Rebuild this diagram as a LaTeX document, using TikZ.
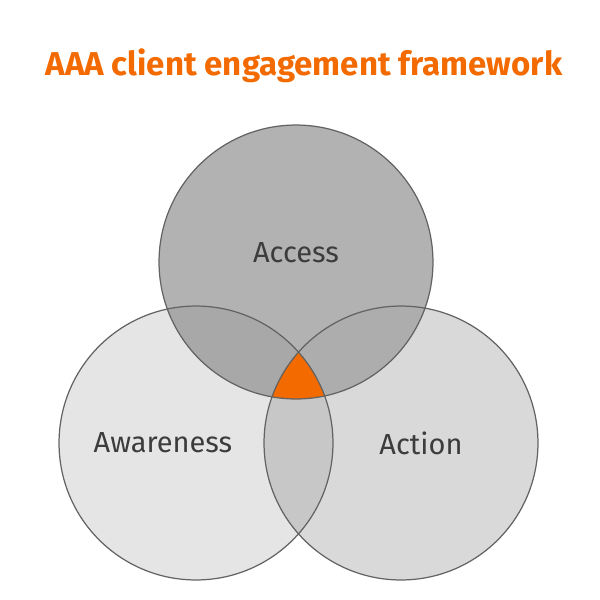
\documentclass[tikz,border=0pt]{standalone}
\usepackage{fontspec}
\setmainfont{Fira Sans}
\usetikzlibrary{positioning}
\definecolor{brand}{HTML}{F26A00}
\definecolor{ink}{HTML}{3C3C3C}
\tikzset{
  ring/.style={circle,draw=ink!80,line width=0.7pt,minimum size=5.48cm,inner sep=0pt},
  tag/.style={text=ink,font=\fontsize{16.5}{20}\selectfont}
}
\begin{document}
\begin{tikzpicture}[x=0.02cm,y=-0.02cm]
	\useasboundingbox (0,0) rectangle (600,600);
	%% Titel
	\node[text=brand,font=\bfseries\fontsize{18.8}{22}\selectfont] (title) at (304,66) {AAA client engagement framework};
	%% Kreise
	\coordinate (cAccess) at (296,262);
	\coordinate (cAware) at (196,443);
	\coordinate (cAction) at (401,443);
	\fill[black!10] (cAware) circle (137);
	\fill[black!15] (cAction) circle (137);
	\fill[black!30] (cAccess) circle (137);
	% Ueberschneidungen
	\begin{scope}
		\clip (cAction) circle (137);
		\fill[black!32] (cAccess) circle (137);
	\end{scope}
	\begin{scope}
		\clip (cAware) circle (137);
		\fill[black!34] (cAccess) circle (137);
		\fill[black!22] (cAction) circle (137);
		\clip (cAction) circle (137);
		\fill[brand] (cAccess) circle (137);
	\end{scope}
	\node[ring] (access) at (cAccess) {};
	\node[ring] (aware) at (cAware) {};
	\node[ring] (action) at (cAction) {};
	%% Beschriftung
	\node[tag] at (296,253) {Access};
	\node[tag] at (163,443) {Awareness};
	\node[tag] at (421,443) {Action};
\end{tikzpicture}
\end{document}
